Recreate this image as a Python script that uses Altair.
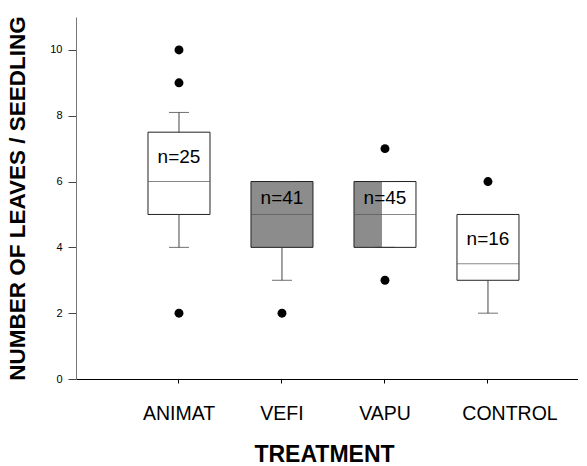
import altair as alt
import pandas as pd

treatments = ["ANIMAT", "VEFI", "VAPU", "CONTROL"]
q1 = [5, 4, 4, 3]
median = [6, 5, 5, 3.5]
q3 = [7.5, 6, 6, 5]
whisk_lo = [4, 3, 4, 2]
whisk_hi = [8.1, 6, 6, 5]
n_values = [25, 41, 45, 16]
box_fill = ["white", "#8c8c8c", "white", "white"]
half_shaded = [False, False, True, False]

outlier_treat = ["ANIMAT", "ANIMAT", "ANIMAT", "VEFI", "VAPU", "VAPU", "CONTROL"]
outlier_vals = [10, 9, 2, 2, 7, 3, 6]

FONT = "Liberation Sans"

boxes = pd.DataFrame({
    "treatment": treatments, "q1": q1, "median": median, "q3": q3,
    "lo": whisk_lo, "hi": whisk_hi, "n": n_values, "fill": box_fill,
    "half": half_shaded,
})
outs = pd.DataFrame({"treatment": outlier_treat, "value": outlier_vals})

xscale = alt.Scale(domain=treatments, paddingInner=0, paddingOuter=0.437, align=0.572)
yscale = alt.Scale(domain=[0, 11], nice=False, zero=True)

x_enc = alt.X("treatment:N", scale=xscale, sort=treatments,
              axis=alt.Axis(title="TREATMENT", labelAngle=0, labelFontSize=19.5,
                            labelPadding=21, tickSize=4, tickColor="black",
                            domainColor="black", titleFontSize=23,
                            titleFontWeight="bold", titlePadding=21, titleX=248,
                            labelOffset={"condition": {"test": "datum.value == 'CONTROL'", "value": 22}, "value": 0},
                            labelColor="black", titleColor="black"))
y_axis = alt.Axis(title="NUMBER OF LEAVES / SEEDLING", values=[0, 2, 4, 6, 8, 10],
                  labelFontSize=11, labelPadding=6, tickSize=8, tickColor="#444",
                  domainColor="#777", grid=False, titleFontSize=22.5,
                  titleFontWeight="bold", titlePadding=20, labelColor="black",
                  titleColor="black")

base = alt.Chart(boxes)
xx = alt.X("treatment:N", scale=xscale, sort=treatments)

fill_layer = base.mark_bar(size=62).encode(
    x=x_enc,
    y=alt.Y("q1:Q", scale=yscale, axis=y_axis),
    y2="q3:Q",
    fill=alt.Fill("fill:N", scale=None),
)

half_layer = base.transform_filter("datum.half").mark_bar(size=28, xOffset=-17, color="#8c8c8c").encode(
    x=xx, y=alt.Y("q1:Q", scale=yscale), y2="q3:Q",
)

outline = base.mark_bar(size=62, fillOpacity=0, stroke="#222", strokeWidth=1).encode(
    x=xx, y=alt.Y("q1:Q", scale=yscale), y2="q3:Q",
)

med = base.mark_tick(size=62, thickness=1, color="#555").encode(
    x=xx, y=alt.Y("median:Q", scale=yscale),
)

whisk_up = base.mark_rule(color="#444", strokeWidth=1).encode(
    x=xx, y=alt.Y("q3:Q", scale=yscale), y2="hi:Q",
)
whisk_dn = base.mark_rule(color="#444", strokeWidth=1).encode(
    x=xx, y=alt.Y("q1:Q", scale=yscale), y2="lo:Q",
)
cap_up = base.mark_tick(size=20, thickness=1, color="#333").encode(
    x=xx, y=alt.Y("hi:Q", scale=yscale),
)
cap_dn = base.mark_tick(size=20, thickness=1, color="#333").encode(
    x=xx, y=alt.Y("lo:Q", scale=yscale),
)

labels = base.transform_calculate(
    ypos="(datum.median + datum.q3) / 2",
    label="'n=' + datum.n",
).mark_text(fontSize=19, color="black", font=FONT).encode(
    x=xx, y=alt.Y("ypos:Q", scale=yscale), text="label:N",
)

dots = alt.Chart(outs).mark_circle(size=80, color="black", opacity=1).encode(
    x=xx, y=alt.Y("value:Q", scale=yscale),
)

chart = alt.layer(
    fill_layer, half_layer, outline, med, whisk_up, whisk_dn, cap_up, cap_dn, labels, dots
).properties(
    width=502, height=362,
    autosize=alt.AutoSizeParams(type="none"),
    padding={"left": 68, "top": 9, "right": 0, "bottom": 85},
).configure(font=FONT).configure_view(stroke=None).configure_axis(labelFont=FONT, titleFont=FONT)

chart.save("out.html", embed_options={"renderer": "svg", "actions": False})
